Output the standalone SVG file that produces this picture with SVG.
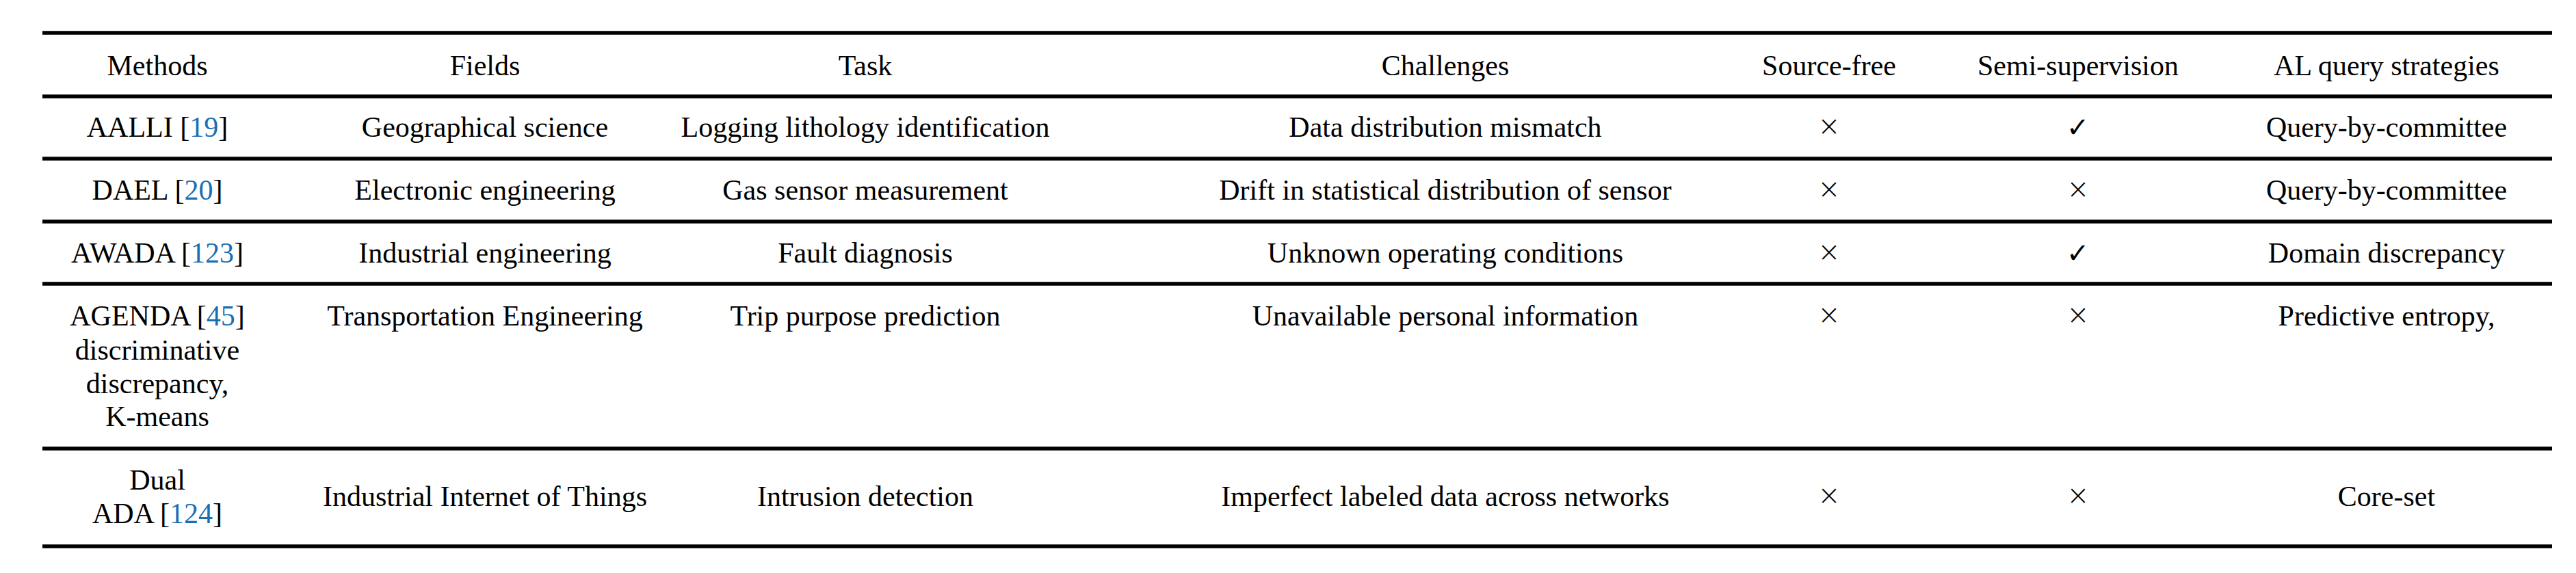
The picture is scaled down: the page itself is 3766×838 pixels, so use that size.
<svg xmlns="http://www.w3.org/2000/svg" width="3766" height="838" viewBox="0 0 3766 838">
<style>
text{font-family:"Liberation Serif","DejaVu Serif",serif;font-size:42px;fill:#000;text-anchor:middle}
.r{fill:#1a6fb4}
.s{font-family:"DejaVu Sans",sans-serif;font-size:40px;font-weight:300}
line{stroke:#000;stroke-width:5.5}
</style>
<rect width="3766" height="838" fill="#fff"/>
<g id="rules">
<line x1="62" y1="48" x2="3731" y2="48"/>
<line x1="62" y1="141" x2="3731" y2="141"/>
<line x1="62" y1="232" x2="3731" y2="232"/>
<line x1="62" y1="324" x2="3731" y2="324"/>
<line x1="62" y1="415" x2="3731" y2="415"/>
<line x1="62" y1="656" x2="3731" y2="656"/>
<line x1="62" y1="799" x2="3731" y2="799"/>
</g>
<g id="header">
<text x="230" y="110">Methods</text>
<text x="709" y="110">Fields</text>
<text x="1265" y="110">Task</text>
<text x="2113" y="110">Challenges</text>
<text x="2674" y="110">Source-free</text>
<text x="3038" y="110">Semi-supervision</text>
<text x="3489" y="110">AL query strategies</text>
</g>
<g id="row1">
<text x="230" y="200">AALLI [<tspan class="r">19</tspan>]</text>
<text x="709" y="200">Geographical science</text>
<text x="1265" y="200">Logging lithology identification</text>
<text x="2113" y="200">Data distribution mismatch</text>
<text class="s" x="2674" y="198">×</text>
<text class="s" x="3038" y="200">✓</text>
<text x="3489" y="200">Query-by-committee</text>
</g>
<g id="row2">
<text x="230" y="292">DAEL [<tspan class="r">20</tspan>]</text>
<text x="709" y="292">Electronic engineering</text>
<text x="1265" y="292">Gas sensor measurement</text>
<text x="2113" y="292">Drift in statistical distribution of sensor</text>
<text class="s" x="2674" y="290">×</text>
<text class="s" x="3038" y="290">×</text>
<text x="3489" y="292">Query-by-committee</text>
</g>
<g id="row3">
<text x="230" y="384">AWADA [<tspan class="r">123</tspan>]</text>
<text x="709" y="384">Industrial engineering</text>
<text x="1265" y="384">Fault diagnosis</text>
<text x="2113" y="384">Unknown operating conditions</text>
<text class="s" x="2674" y="382">×</text>
<text class="s" x="3038" y="384">✓</text>
<text x="3489" y="384">Domain discrepancy</text>
</g>
<g id="row4">
<text x="230" y="476">AGENDA [<tspan class="r">45</tspan>]</text>
<text x="230" y="526">discriminative</text>
<text x="230" y="575">discrepancy,</text>
<text x="230" y="623">K-means</text>
<text x="709" y="476">Transportation Engineering</text>
<text x="1265" y="476">Trip purpose prediction</text>
<text x="2113" y="476">Unavailable personal information</text>
<text class="s" x="2674" y="474">×</text>
<text class="s" x="3038" y="474">×</text>
<text x="3489" y="476">Predictive entropy,</text>
</g>
<g id="row5">
<text x="230" y="716">Dual</text>
<text x="230" y="765">ADA [<tspan class="r">124</tspan>]</text>
<text x="709" y="740">Industrial Internet of Things</text>
<text x="1265" y="740">Intrusion detection</text>
<text x="2113" y="740">Imperfect labeled data across networks</text>
<text class="s" x="2674" y="738">×</text>
<text class="s" x="3038" y="738">×</text>
<text x="3489" y="740">Core-set</text>
</g>
</svg>
